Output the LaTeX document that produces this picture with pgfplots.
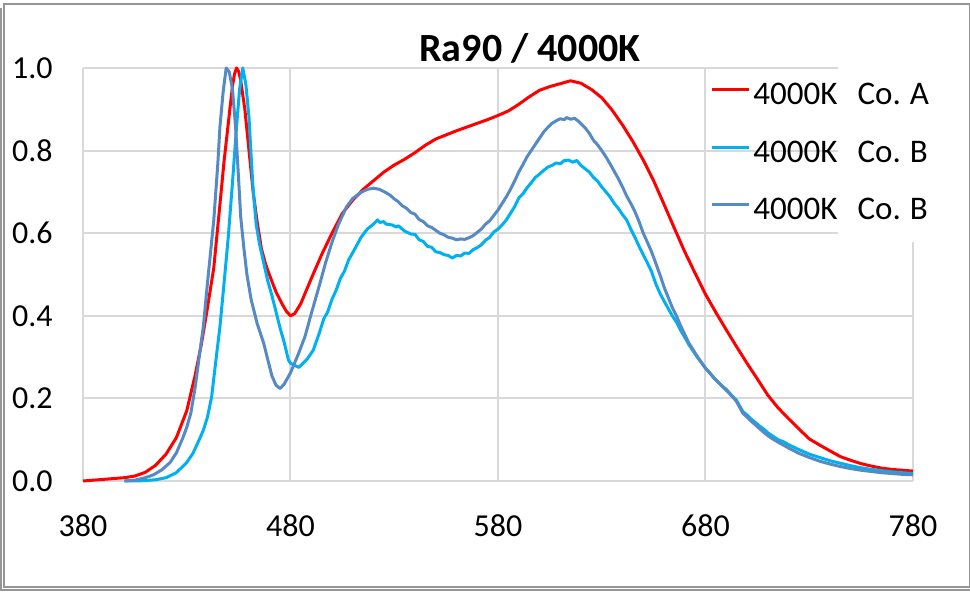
\documentclass[border=0pt]{standalone}
\usepackage{pgfplots}
\pgfplotsset{compat=1.18}
\usepackage{fontspec}
\setmainfont{Carlito}
\definecolor{cRed}{RGB}{255,0,0}
\definecolor{cCyan}{RGB}{0,176,240}
\definecolor{cSteel}{RGB}{85,138,196}
\definecolor{cGrid}{RGB}{217,217,217}
\definecolor{cFrame}{RGB}{150,150,150}

\pgfplotstableread{
x y
380 0.000
390 0.004
400 0.008
405 0.012
410 0.021
415 0.038
420 0.065
425 0.105
430 0.170
434 0.255
437 0.330
440 0.420
443 0.515
446 0.670
448 0.775
450 0.865
452 0.955
453 0.985
454 1.000
455 0.992
456 0.970
458 0.900
460 0.800
462 0.700
464 0.625
466 0.562
468 0.525
470 0.497
473 0.458
476 0.428
478 0.411
480 0.400
482 0.405
485 0.430
490 0.490
495 0.548
500 0.600
505 0.648
510 0.680
515 0.706
520 0.727
525 0.748
530 0.765
535 0.779
540 0.795
545 0.813
550 0.828
555 0.838
560 0.848
565 0.857
570 0.866
575 0.875
580 0.885
585 0.896
590 0.912
595 0.930
600 0.946
605 0.955
610 0.962
615 0.969
620 0.963
625 0.948
630 0.928
635 0.898
640 0.862
645 0.822
650 0.777
655 0.727
660 0.670
665 0.612
670 0.555
675 0.503
680 0.452
685 0.408
690 0.366
695 0.325
700 0.285
705 0.247
710 0.208
715 0.177
720 0.151
725 0.126
730 0.102
735 0.087
740 0.073
745 0.059
750 0.050
755 0.042
760 0.036
765 0.031
770 0.028
775 0.026
780 0.024
}\coA

\pgfplotstableread{
x y
400 0.000
405 0.000
410 0.001
415 0.003
420 0.008
425 0.020
430 0.045
433 0.067
436 0.100
438 0.123
440 0.155
442 0.204
444 0.290
446 0.374
448 0.480
450 0.590
452 0.720
454 0.858
455.5 0.950
457 1.000
458.5 0.960
460 0.880
461 0.790
462 0.705
463.5 0.620
465 0.575
467 0.530
469 0.485
471 0.450
473 0.410
475 0.370
477 0.335
479 0.293
480 0.285
482 0.280
484 0.275
486 0.285
488 0.295
491 0.317
494 0.360
496 0.392
498 0.410
500 0.440
502 0.462
504 0.490
506 0.508
508 0.535
511 0.562
514 0.590
517 0.610
520 0.622
522 0.632
523 0.626
525 0.628
526 0.622
529 0.620
531 0.615
532 0.618
535 0.605
538 0.598
540 0.597
542 0.584
544 0.580
546 0.568
548 0.566
550 0.555
552 0.553
554 0.548
556 0.546
558 0.540
560 0.546
562 0.545
564 0.552
566 0.551
568 0.560
570 0.565
572 0.572
574 0.583
576 0.590
578 0.603
580 0.610
582 0.620
584 0.632
586 0.648
588 0.664
590 0.685
592 0.695
594 0.710
596 0.722
598 0.735
600 0.743
602 0.752
604 0.760
606 0.764
608 0.770
610 0.768
612 0.776
614 0.777
616 0.772
618 0.776
620 0.764
622 0.756
624 0.748
626 0.735
628 0.726
630 0.712
632 0.700
634 0.688
636 0.672
638 0.660
640 0.645
642 0.632
644 0.610
646 0.590
648 0.568
650 0.548
652 0.528
654 0.507
656 0.478
658 0.455
660 0.436
662 0.418
664 0.400
666 0.385
668 0.365
670 0.348
672 0.330
674 0.315
676 0.300
678 0.287
680 0.273
682 0.262
684 0.250
686 0.240
688 0.230
690 0.222
693 0.205
695 0.195
698 0.168
700 0.160
702 0.150
704 0.142
706 0.133
708 0.126
710 0.117
712 0.110
715 0.100
718 0.094
720 0.088
725 0.076
730 0.065
735 0.057
740 0.049
745 0.043
750 0.037
755 0.032
760 0.028
765 0.025
770 0.022
775 0.020
780 0.018
}\coBa

\pgfplotstableread{
x y
400 0.000
405 0.002
410 0.008
414 0.015
418 0.027
422 0.045
425 0.068
428 0.103
430 0.130
432 0.165
434 0.225
436 0.300
438 0.374
440 0.480
442 0.580
443 0.630
445 0.770
446 0.858
447.5 0.940
449 1.000
450.5 0.990
452 0.950
453.5 0.860
455 0.730
456 0.640
457.5 0.565
459 0.500
461 0.440
464 0.380
467 0.335
469 0.295
471 0.255
473 0.232
475 0.224
477 0.235
480 0.262
484 0.310
487 0.350
490 0.405
494 0.475
497 0.530
500 0.578
503 0.620
507 0.664
510 0.684
514 0.699
517 0.706
520 0.709
523 0.706
526 0.698
528 0.692
530 0.683
532 0.676
534 0.666
536 0.660
538 0.650
540 0.646
542 0.633
544 0.628
546 0.618
548 0.614
550 0.607
552 0.600
554 0.596
556 0.590
558 0.588
560 0.584
562 0.586
564 0.585
566 0.589
568 0.594
570 0.602
572 0.610
574 0.622
576 0.630
578 0.643
580 0.656
582 0.672
584 0.688
586 0.706
588 0.726
590 0.748
592 0.766
594 0.785
596 0.800
598 0.815
600 0.830
602 0.845
604 0.856
606 0.866
608 0.872
610 0.877
612 0.875
613 0.880
615 0.876
617 0.878
619 0.870
622 0.855
624 0.842
626 0.825
628 0.814
630 0.800
632 0.785
634 0.768
636 0.750
638 0.732
640 0.712
642 0.690
644 0.672
646 0.652
648 0.628
650 0.600
652 0.578
654 0.555
656 0.528
658 0.500
660 0.470
662 0.445
664 0.420
666 0.400
668 0.376
670 0.355
672 0.334
674 0.318
676 0.302
678 0.287
680 0.273
682 0.262
684 0.250
686 0.240
688 0.230
690 0.220
693 0.204
695 0.192
698 0.164
700 0.155
702 0.145
704 0.136
706 0.127
708 0.118
710 0.110
712 0.103
715 0.094
720 0.080
725 0.067
730 0.057
735 0.048
740 0.041
745 0.035
750 0.030
755 0.026
760 0.023
765 0.020
770 0.018
775 0.016
780 0.015
}\coBb

\begin{document}
\begin{tikzpicture}
\path[use as bounding box] (0,0) rectangle (485pt,296pt);
% chart frame
\draw[cFrame, line width=0.6pt] (2pt,2.5pt) rectangle (484.7pt,294pt);
\draw[cFrame, line width=0.6pt] (0.5pt,292pt) -- (0.5pt,1pt) -- (485pt,1pt);
\node[font=\bfseries\fontsize{20}{24}\selectfont, anchor=base, inner sep=0pt] at (265pt,265pt) {Ra90 / 4000K};
\begin{axis}[
  at={(41.5pt,55.5pt)}, anchor=south west,
  scale only axis, width=415pt, height=206.5pt,
  xmin=380, xmax=780, ymin=0, ymax=1,
  xtick={380,480,580,680,780},
  ytick={0,0.2,0.4,0.6,0.8,1.0},
  grid=major,
  grid style={cGrid, line width=1pt},
  axis line style={draw=none},
  major tick length=0pt,
  clip=false,
  /pgf/number format/assume math mode=true,
  yticklabel style={/pgf/number format/.cd, fixed, fixed zerofill, precision=1, /tikz/.cd},
  x tick label style={/pgf/number format/.cd, fixed, 1000 sep={}, /tikz/.cd},
  tick label style={font=\fontsize{16}{19}\selectfont, inner sep=0pt},
  yticklabel style={anchor=east, xshift=-15pt},
  xticklabel style={anchor=north, yshift=-16.5pt},
  legend style={at={(0.7555,0.7893)}, anchor=west, draw=none, fill=none,
    inner sep=0pt, row sep=13.75pt,
    font=\fontsize{16.5}{19}\selectfont,
    nodes={inner sep=0pt, text height=11pt, text depth=4pt},
    /tikz/every even column/.append style={column sep=0pt}},
  legend cell align=left,
  legend image code/.code={\draw[#1, line width=1.5pt] (0pt,4pt) -- (18.5pt,4pt);},
]
\fill[white] (axis cs:743.9,0.579) rectangle (axis cs:792,1.05);
\addplot[cRed, line width=1.5pt, line join=round] table[x=x,y=y] {\coA};
\addlegendentry{\hspace{1.5pt}4000K\hspace{10pt}Co.\hspace{4.5pt}A}
\addplot[cCyan, line width=1.5pt, line join=round] table[x=x,y=y] {\coBa};
\addlegendentry{\hspace{1.5pt}4000K\hspace{10pt}Co.\hspace{4.5pt}B}
\addplot[cSteel, line width=1.5pt, line join=round] table[x=x,y=y] {\coBb};
\addlegendentry{\hspace{1.5pt}4000K\hspace{10pt}Co.\hspace{4.5pt}B}
\end{axis}
\end{tikzpicture}
\end{document}
